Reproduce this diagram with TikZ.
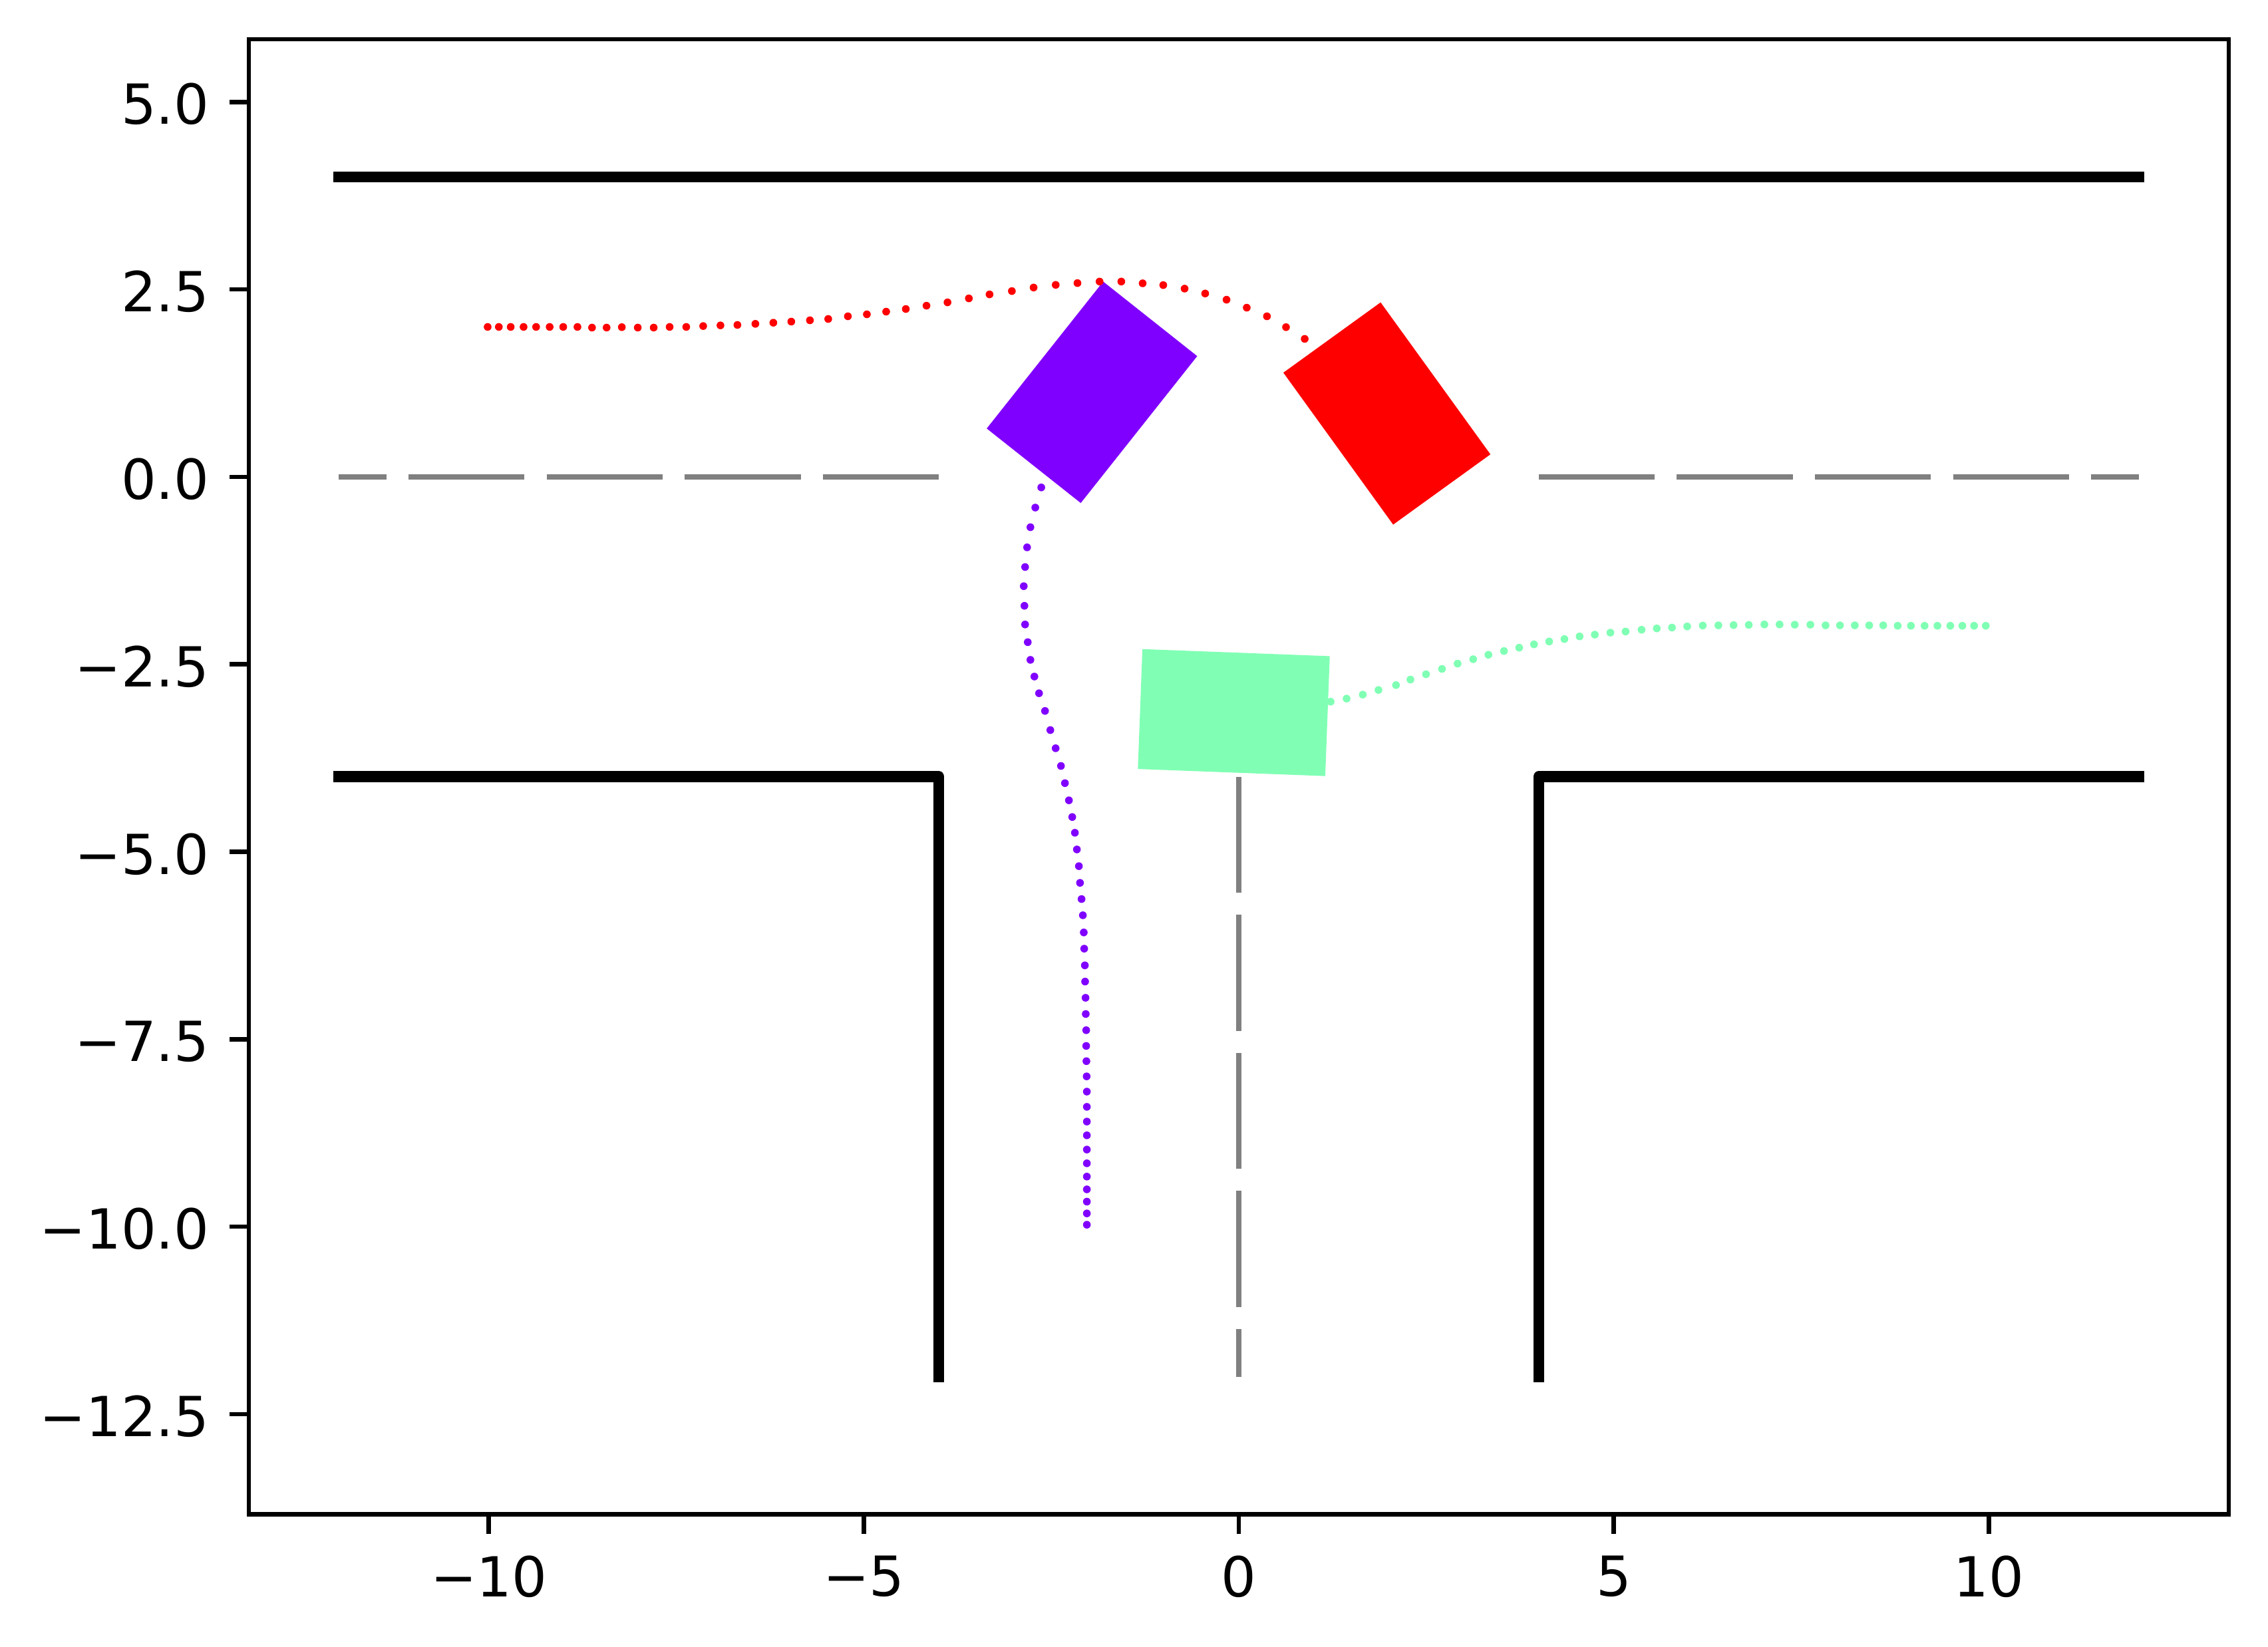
\documentclass[tikz,border=0pt]{standalone}
\usepackage{fontspec}
\setmainfont{DejaVu Sans}
\definecolor{trpurple}{HTML}{8000FF}
\definecolor{trgreen}{HTML}{80FFB4}
\definecolor{trred}{HTML}{FF0000}
\definecolor{lanegray}{HTML}{808080}
\begin{document}
\begin{tikzpicture}[x=0.477212cm, y=0.477212cm,
  font=\fontsize{10}{12}\selectfont,
  wall/.style={line width=2pt, black, line cap=rect, line join=round},
  lane/.style={line width=1pt, lanegray, dash pattern=on 21pt off 4pt},
  spine/.style={line width=0.8pt, black},
  tickmark/.style={line width=0.8pt, black},
  ticklab/.style={inner sep=0pt},
  car/.style={draw=none},
  pxgrid/.style={shift={(-7.88251cm,3.03478cm)}, x=0.00423333cm, y=-0.00423333cm},
]
\useasboundingbox (-16.5178,-15.6052) rectangle (13.7234,6.3594);

% cars (drawn below the lines)
\fill[car, trpurple, rotate around={51.6:(-1.9575,1.127)}] (-3.2075,0.327) rectangle (-0.7075,1.927);
\fill[car, trred, rotate around={-54.15:(1.975,0.8445)}] (0.725,0.0445) rectangle (3.225,1.6445);
\fill[car, trgreen, rotate around={-2.16:(-0.066,-3.144)}] (-1.316,-3.944) rectangle (1.184,-2.344);

% road walls
\draw[wall] (-12,4) -- (12,4);
\draw[wall] (-12,-4) -- (-4,-4) -- (-4,-12);
\draw[wall] (12,-4) -- (4,-4) -- (4,-12);

% lane markings
\draw[lane] (-4,0) -- (-12,0);
\draw[lane] (4,0) -- (12,0);
\draw[lane] (0,-4) -- (0,-12);

% trajectories (one dot per time step)
\begin{scope}[pxgrid]
  % red
  \foreach \a/\b in {67/157,100/157,135/157,173/157,210/157,250/157,290/157,332/157,
      375/160,418/160,463/158,510/160,557/160,604/157,653/157,703/153,754/150,804/148,
      857/143,910/138,963/133,1018/127,1072/121,1130/109,1186/100,1243/88,1301/76,
      1362/61,1424/46,1487/28,1548/10}
    \fill[trred] ({700+\a/1.96},{440+\b/3}) circle (0.7pt);
  \foreach \a/\b in {215/265,272/249,330/237,387/229,445/222,502/222,558/230,612/238,
      668/254,722/276,778/304,831/340,884/379,934/428,983/481}
    \fill[trred] ({1400+\a/1.742},{350+\b/3}) circle (0.7pt);
  % purple
  \foreach \a/\b in {409/1547,409/1524,409/1500,409/1475,409/1449,409/1422,409/1394,
      409/1365,409/1337,409/1307,409/1276,408/1245,407/1214,406/1183,406/1151,404/1118,
      403/1085,401/1052,400/1019,397/985,395/952,391/917,385/884,378/851,373/817,
      364/783,355/749,343/717,328/683,310/648,292/613,268/577,244/540,220/501,193/465,
      172/431,154/397,142/361,130/325,127/287,124/247,130/208,139/168,154/127,176/87,203/46}
    \fill[trpurple] ({1500+\a/3},{700+\b/1.352}) circle (0.7pt);
  % green
  \foreach \a/\b in {1516/127,1486/127,1456/127,1425/127,1392/127,1359/127,1324/127,
      1290/127,1253/125,1217/125,1180/125,1142/125,1105/125,1066/122,1026/122,987/121,
      948/121,908/123,869/124,830/125,790/126,750/130,711/135,672/139,633/145,592/153,
      553/158,513/167,474/175,435/187,396/198,357/211,319/226,280/241,240/258,201/278,
      161/298,121/322,80/346,40/370,3/395}
    \fill[trgreen] ({2100+\a/1.704},{900+\b/3}) circle (0.7pt);
  \foreach \a/\b in {1060/470,1132/456,1205/438,1276/417}
    \fill[trgreen] ({1650+\a/3},{900+\b/3}) circle (0.7pt);
\end{scope}

% axes frame
\draw[spine] (-13.2,-13.836) rectangle (13.2,5.836);

% x ticks
\foreach \v/\t [count=\i] in {-10/−10,-5/−5,0/0,5/5,10/10} {
  \draw[tickmark] (\v,-13.836) -- ++(0,-3.5pt);
  \node[ticklab, anchor=north] (xl\i) at ([yshift=-7.37pt]\v,-13.836) {\t};
}
% y ticks
\foreach \v/\t [count=\i] in {5/5.0,2.5/2.5,0/0.0,-2.5/−2.5,-5/−5.0,-7.5/−7.5,-10/−10.0,-12.5/−12.5} {
  \draw[tickmark] (-13.2,\v) -- ++(-3.5pt,0);
  \node[ticklab, anchor=east] (yl\i) at ([xshift=-7pt,yshift=-0.4pt]-13.2,\v) {\t};
}
\end{tikzpicture}
\end{document}
